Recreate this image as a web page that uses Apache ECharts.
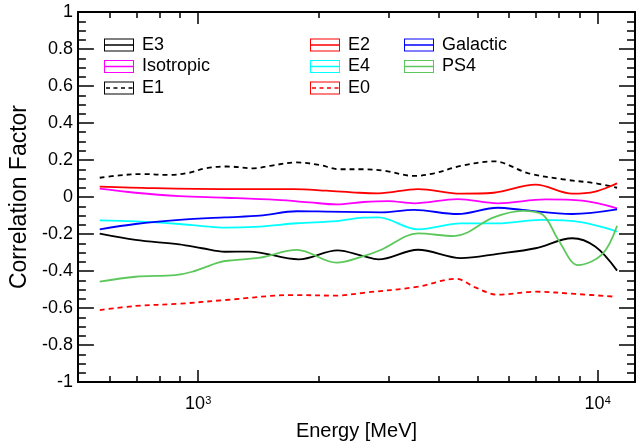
<!DOCTYPE html>
<html><head><meta charset="utf-8">
<script src="https://cdn.jsdelivr.net/npm/echarts@6/dist/echarts.min.js"></script>
<style>html,body{margin:0;padding:0;background:#fff}#c{width:636px;height:448px}</style>
</head><body><div id="c"></div>
<script>
// ---- data (energy in MeV, correlation factor) ----
const energyE3 = [567,697,897,1023,1167,1340,1785,2233,2591,2824,3551,4545,5620,6990,8641,9858,11184];
const corrE3   = [-0.198,-0.232,-0.256,-0.277,-0.296,-0.295,-0.337,-0.288,-0.320,-0.337,-0.285,-0.330,-0.307,-0.277,-0.223,-0.268,-0.398];

const energyIso = [567,697,897,1167,1573,1901,2220,2591,2991,3471,4467,5620,7402,9150,11184];
const corrIso   = [0.045,0.023,0.005,-0.004,-0.016,-0.029,-0.040,-0.027,-0.022,-0.034,-0.011,-0.034,-0.013,-0.020,-0.061];

const energyE1 = [567,636,725,847,950,1041,1181,1379,1511,1765,2013,2259,2591,2923,3471,3893,4545,5492,6714,8159,9858,11184];
const corrE1   = [0.104,0.117,0.124,0.119,0.131,0.155,0.165,0.155,0.168,0.187,0.173,0.150,0.150,0.142,0.114,0.128,0.168,0.193,0.128,0.096,0.074,0.050];

const energyE2 = [567,768,1181,1734,2096,2532,2824,3551,4545,5492,6990,8641,9858,11184];
const corrE2   = [0.056,0.048,0.043,0.043,0.034,0.023,0.020,0.043,0.018,0.023,0.067,0.018,0.029,0.074];

const energyE4 = [567,697,897,1023,1167,1427,1765,2220,2591,2824,3551,4545,5620,7193,9150,11184];
const corrE4   = [-0.126,-0.132,-0.146,-0.157,-0.166,-0.160,-0.142,-0.130,-0.112,-0.110,-0.175,-0.143,-0.143,-0.124,-0.137,-0.187];

const energyE0 = [567,697,897,1167,1734,2220,2591,3551,4416,4953,5620,6990,8790,11056];
const corrE0   = [-0.611,-0.589,-0.577,-0.557,-0.530,-0.533,-0.518,-0.485,-0.442,-0.490,-0.528,-0.512,-0.524,-0.539];

const energyGal = [567,697,897,1167,1427,1765,2096,2591,2873,3471,4467,5620,6486,8641,11184];
const corrGal   = [-0.175,-0.146,-0.124,-0.110,-0.101,-0.077,-0.079,-0.082,-0.083,-0.070,-0.092,-0.058,-0.070,-0.092,-0.067];

const energyPS4 = [567,697,876,966,1128,1215,1427,1765,2220,2591,2873,3551,4366,5492,6486,7276,7973,8942,10261,11184];
const corrPS4   = [-0.458,-0.431,-0.422,-0.404,-0.353,-0.342,-0.328,-0.286,-0.355,-0.320,-0.285,-0.197,-0.211,-0.110,-0.075,-0.095,-0.232,-0.368,-0.310,-0.155];

const xMajorTicks = [1000, 10000];
const xMinorTicks = [600,700,800,900,2000,3000,4000,5000,6000,7000,8000,9000];
const xRange = [500, 12400];
const yRange = [-1, 1];
const yStep = 0.2;

const legendCol1 = ['E3','Isotropic','E1'];
const legendCol2 = ['E2','E4','E0'];
const legendCol3 = ['Galactic','PS4'];

// ---- styles ----
const FONT = 'Liberation Sans, Arial, Helvetica, sans-serif';
const seriesDefs = [
  {name:'E3', x:energyE3, y:corrE3, color:'#000000', dash:false},
  {name:'Isotropic', x:energyIso, y:corrIso, color:'#ff00ff', dash:false},
  {name:'E1', x:energyE1, y:corrE1, color:'#000000', dash:true},
  {name:'E2', x:energyE2, y:corrE2, color:'#ff0000', dash:false},
  {name:'E4', x:energyE4, y:corrE4, color:'#00ffff', dash:false},
  {name:'E0', x:energyE0, y:corrE0, color:'#ff0000', dash:true},
  {name:'Galactic', x:energyGal, y:corrGal, color:'#0000ff', dash:false},
  {name:'PS4', x:energyPS4, y:corrPS4, color:'#5cc85c', dash:false}
];
const dashNames = seriesDefs.filter(s=>s.dash).map(s=>s.name);

const solidIcon = 'path://M0,0L30,0L30,13L0,13Z M1,1L1,12L29,12L29,1Z M0,5.8L30,5.8L30,7.2L0,7.2Z';
const dashIcon = 'path://M0,0L30,0L30,13L0,13Z M1,1L1,12L29,12L29,1Z M2,5.8L6,5.8L6,7.2L2,7.2Z M9.5,5.8L13.5,5.8L13.5,7.2L9.5,7.2Z M17,5.8L21,5.8L21,7.2L17,7.2Z M24.5,5.8L28.5,5.8L28.5,7.2L24.5,7.2Z';

function makeLegend(names, left) {
  return {
    orient: 'vertical', left: left, top: 36, itemWidth: 30, itemHeight: 13, itemGap: 3.5,
    selectedMode: false, padding: 0,
    itemStyle: {borderWidth: 0},
    textStyle: {fontFamily: FONT, fontSize: 18, color: '#000', padding: [0,0,0,3]},
    data: names.map(n => ({name: n, icon: dashNames.includes(n) ? dashIcon : solidIcon}))
  };
}

const axisLineStyle = {color:'#000', width:2};
function xAxisDef(position, ticks, len, showLine, showLabel) {
  return {
    type: 'log', logBase: 10, min: xRange[0], max: xRange[1], position: position,
    axisLine: {show: showLine, onZero: false, lineStyle: axisLineStyle},
    axisTick: {show: true, inside: true, length: len, customValues: ticks, lineStyle: {color:'#000', width: 1.5}},
    axisLabel: showLabel ? {
      show: true, customValues: ticks, margin: 13,
      formatter: v => '{b|10}{s|' + Math.round(Math.log10(v)) + '}',
      rich: {b: {fontFamily: FONT, fontSize: 18, color:'#000'}, s: {fontFamily: FONT, fontSize: 11, color:'#000', verticalAlign:'top', padding:[0,0,8,0]}}
    } : {show: false},
    splitLine: {show: false}, minorTick: {show: false}
  };
}
function yAxisDef(position, showLabel) {
  const a = {
    type: 'value', min: yRange[0], max: yRange[1], interval: yStep, position: position,
    axisLine: {show: true, onZero: false, lineStyle: axisLineStyle},
    axisTick: {show: true, inside: true, length: 16, lineStyle: {color:'#000', width: 1.5}},
    minorTick: {show: true, splitNumber: 4, length: 8, lineStyle: {color:'#000', width: 1.5}},
    axisLabel: {show: showLabel, fontFamily: FONT, fontSize: 18, color: '#000', margin: 5},
    splitLine: {show: false}, minorSplitLine: {show: false}
  };
  if (showLabel) {
    a.name = 'Correlation Factor'; a.nameLocation = 'middle'; a.nameGap = 46;
    a.nameTextStyle = {fontFamily: FONT, fontSize: 23, color: '#000'};
  }
  return a;
}

const xBottomMajor = xAxisDef('bottom', xMajorTicks, 12, true, true);
xBottomMajor.name = 'Energy [MeV]';
xBottomMajor.nameLocation = 'middle';
xBottomMajor.nameGap = 39;
xBottomMajor.nameTextStyle = {fontFamily: FONT, fontSize: 20, color: '#000'};

const option = {
  animation: false,
  backgroundColor: '#ffffff',
  grid: {left: 75, right: 1, top: 12, bottom: 66, containLabel: false},
  legend: [makeLegend(legendCol1, 104), makeLegend(legendCol2, 310), makeLegend(legendCol3, 404)],
  xAxis: [
    xBottomMajor,
    xAxisDef('bottom', xMinorTicks, 6, false, false),
    xAxisDef('top', xMajorTicks, 12, true, false),
    xAxisDef('top', xMinorTicks, 6, false, false)
  ],
  yAxis: [yAxisDef('left', true), yAxisDef('right', false)],
  series: seriesDefs.map(s => ({
    name: s.name, type: 'line', xAxisIndex: 0, yAxisIndex: 0,
    data: s.x.map((e, i) => [e, s.y[i]]),
    showSymbol: false, symbol: 'none', smooth: 0.35,
    itemStyle: {color: s.color},
    lineStyle: {color: s.color, width: 1.8, type: s.dash ? [5, 4] : 'solid'}
  }))
};

const chart = echarts.init(document.getElementById('c'), null, {renderer: 'canvas', width: 636, height: 448});
chart.setOption(option);
</script>
</body></html>
